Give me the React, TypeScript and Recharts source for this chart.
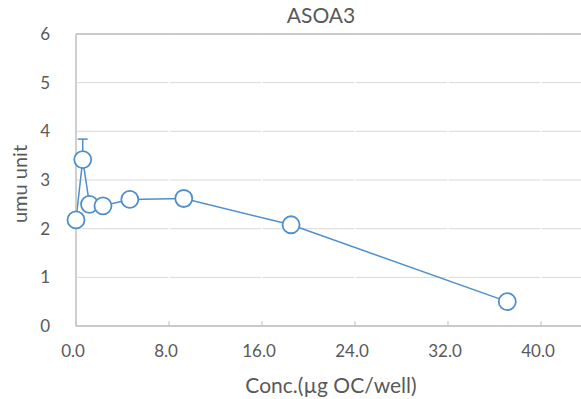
import React from 'react';
import { LineChart, Line, XAxis, YAxis, CartesianGrid, ErrorBar, ReferenceLine } from 'recharts';

const concentrations = [0, 0.58, 1.16, 2.32, 4.63, 9.27, 18.5, 37.1];
const umuValues = [2.18, 3.42, 2.5, 2.47, 2.6, 2.62, 2.08, 0.5];
const errPlus = [0, 0.42, 0, 0, 0, 0, 0, 0];
const xTicks = [0, 8, 16, 24, 32, 40];
const yTicks = [0, 1, 2, 3, 4, 5, 6];

const data = concentrations.map((c, i) => ({ conc: c, umu: umuValues[i], err: [0, errPlus[i]] }));

const BLUE = '#4F8FCC';
const TEXT = '#595959';
const AXIS = '#BFBFBF';
const GRID = '#D9D9D9';
const FONT = 'Lato, sans-serif';

const XTick = (props: any) => {
  const { x, y, payload } = props;
  const axisY = y - 19;
  return (
    <g>
      <line x1={x} x2={x} y1={axisY - 5} y2={axisY} stroke={AXIS} strokeWidth={1} />
      <text x={x - 3} y={y} dy="0.71em" textAnchor="middle" fill={TEXT} fontSize={17} fontFamily={FONT}>
        {Number(payload.value).toFixed(1)}
      </text>
    </g>
  );
};

export default function App() {
  return (
    <div style={{ position: 'absolute', left: 0, top: 0, width: 581, height: 399, overflow: 'hidden', background: '#fff' }}>
      <LineChart width={600} height={399} data={data} margin={{ top: 34, right: 12.5, left: 0, bottom: 43 }}>
        <CartesianGrid stroke={GRID} strokeWidth={1} vertical={false} />
        <CartesianGrid stroke="#FFFFFF" strokeWidth={1.5} horizontal={false} verticalValues={xTicks} />
        <ReferenceLine y={6} stroke={AXIS} strokeWidth={1.5} />
        <XAxis
          dataKey="conc"
          type="number"
          domain={[0, 44]}
          ticks={xTicks}
          height={30}
          tickSize={0}
          tickMargin={19}
          tickLine={false}
          axisLine={{ stroke: AXIS, strokeWidth: 1.5 }}
          tick={<XTick />}
        />
        <YAxis
          type="number"
          domain={[0, 6]}
          ticks={yTicks}
          width={76}
          tickSize={0}
          tickMargin={26}
          tickLine={false}
          axisLine={{ stroke: AXIS, strokeWidth: 1.5 }}
          tick={{ fill: TEXT, fontSize: 17, fontFamily: FONT }}
        />
        <Line
          dataKey="umu"
          stroke={BLUE}
          strokeWidth={1.5}
          isAnimationActive={false}
          dot={{ r: 8.5, fill: '#FFFFFF', stroke: BLUE, strokeWidth: 1.8 }}
          activeDot={false}
        >
          <ErrorBar dataKey="err" direction="y" width={5} stroke={BLUE} strokeWidth={1.5} isAnimationActive={false} />
        </Line>
      </LineChart>
      <svg width={581} height={399} style={{ position: 'absolute', left: 0, top: 0, pointerEvents: 'none' }}>
        <text x={321} y={23} textAnchor="middle" fill={TEXT} fontSize={21} fontFamily={FONT}>ASOA3</text>
        <text x={331} y={393} textAnchor="middle" fill={TEXT} fontSize={21} fontFamily={FONT}>Conc.(µg OC/well)</text>
        <text x={0} y={0} transform="translate(27,184) rotate(-90)" textAnchor="middle" fill={TEXT} fontSize={20} fontFamily={FONT}>umu unit</text>
      </svg>
    </div>
  );
}
